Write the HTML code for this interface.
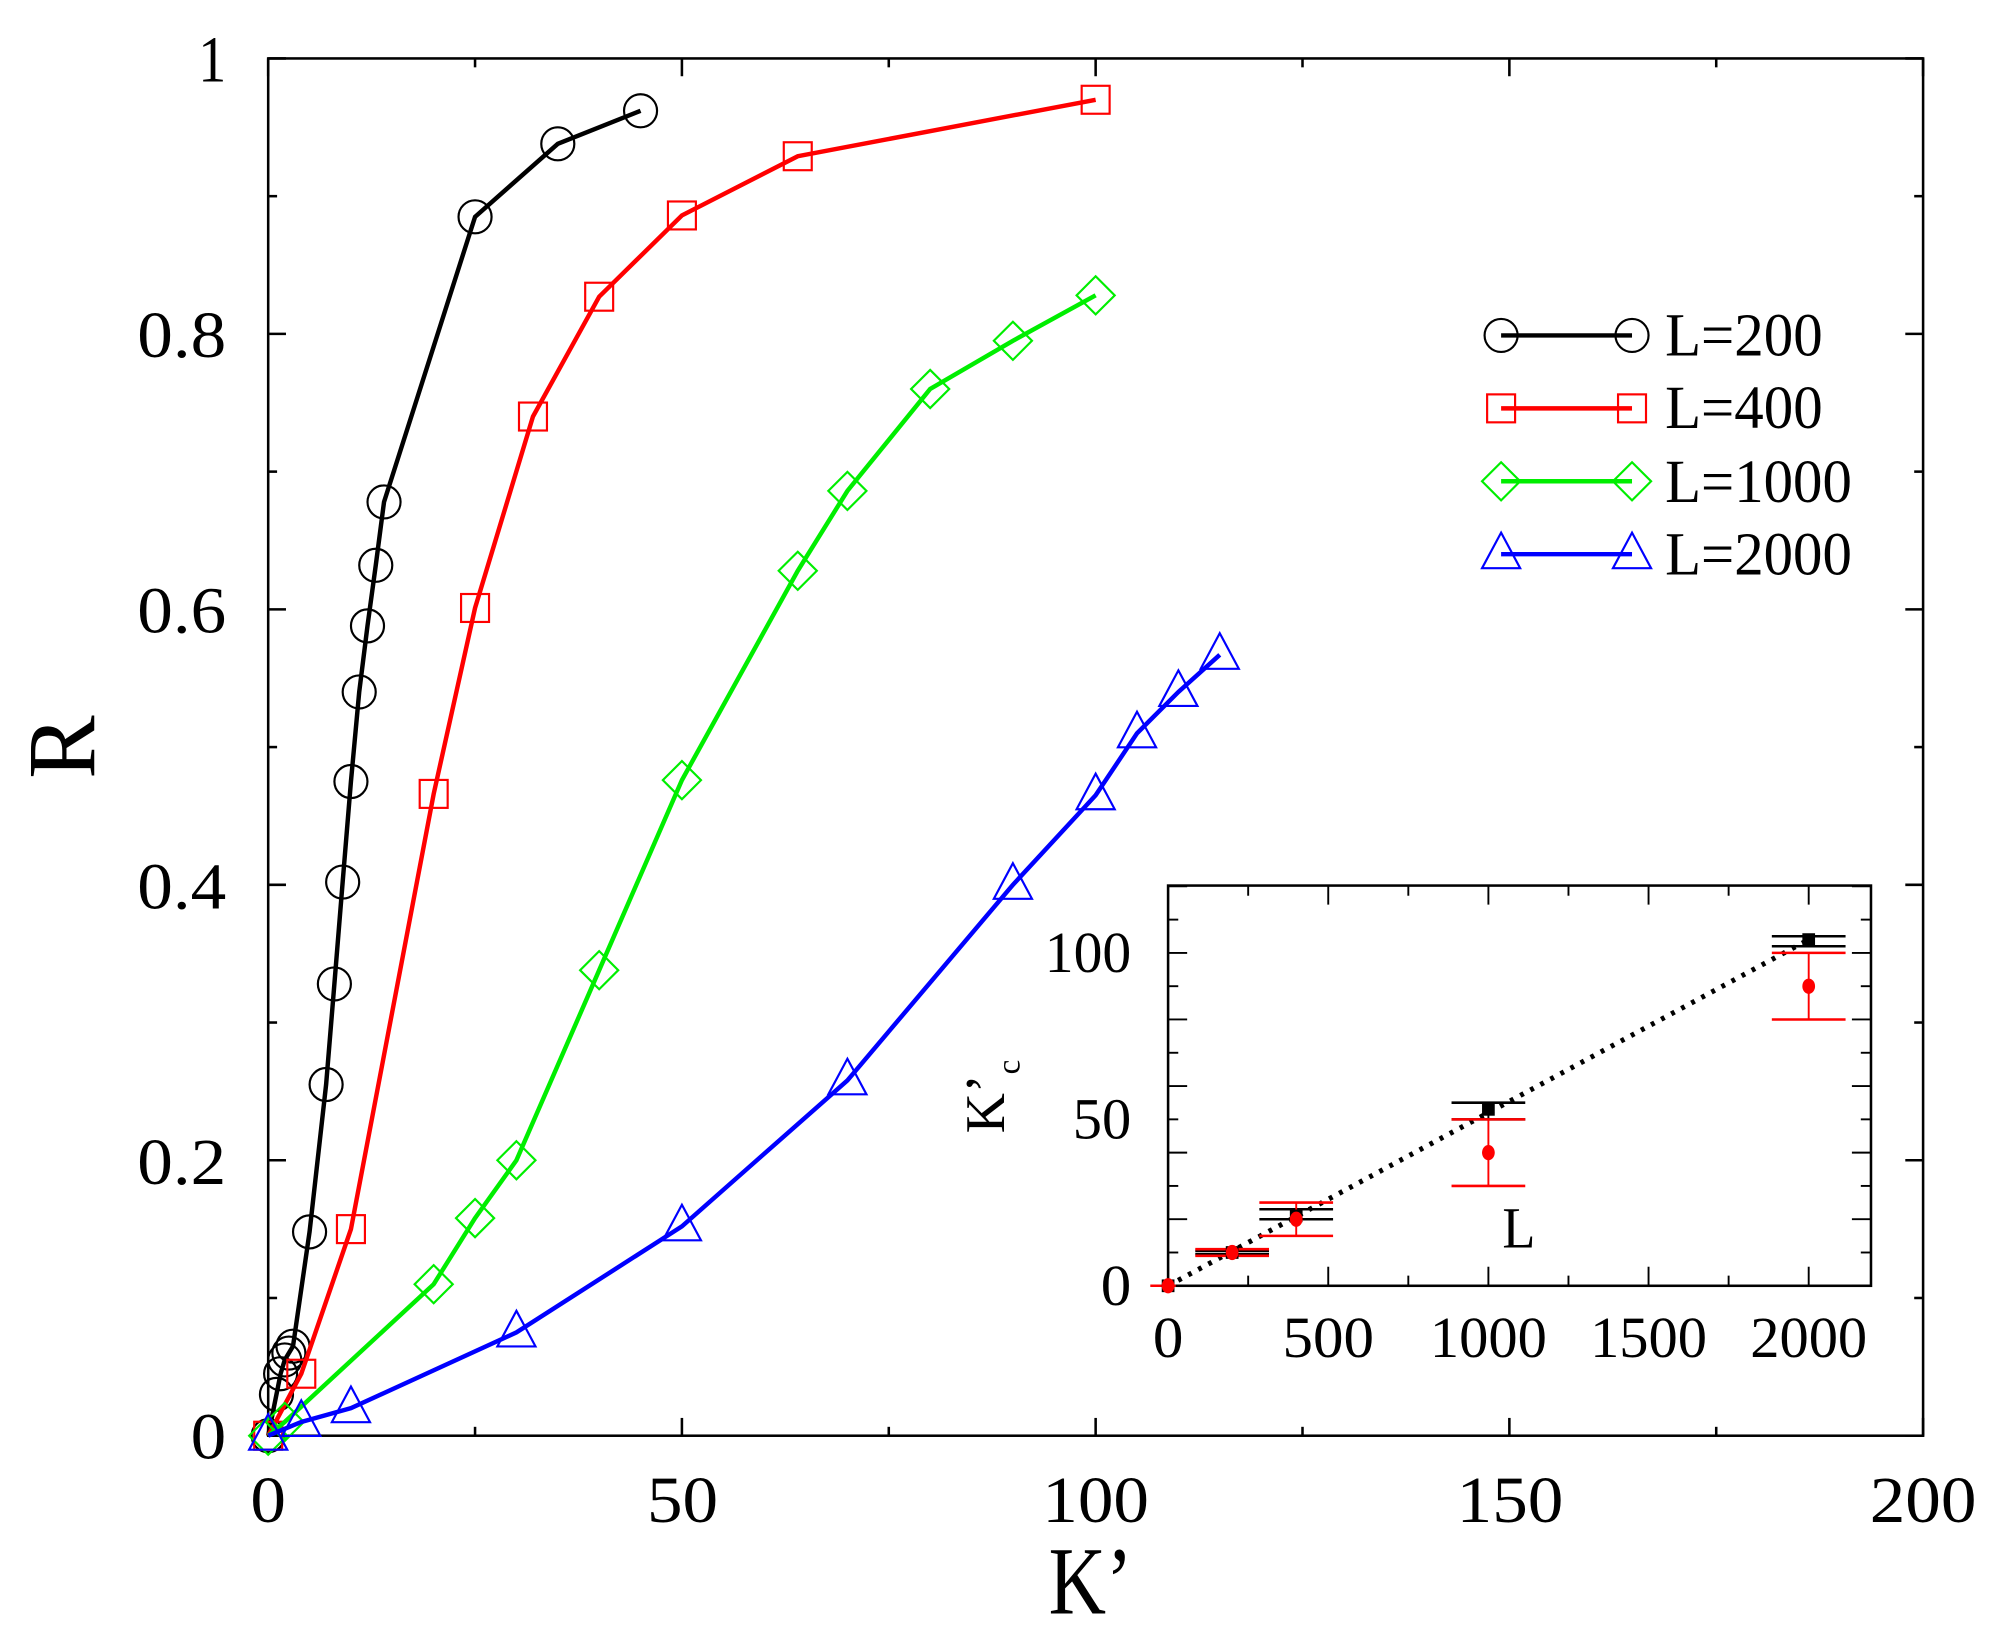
<!DOCTYPE html>
<html><head><meta charset="utf-8"><style>
html,body{margin:0;padding:0;background:#fff;}
svg{display:block;}
text{font-family:"Liberation Serif",serif;fill:#000;}
</style></head><body>
<svg id="s" width="1993" height="1639" viewBox="0 0 1568 1290" preserveAspectRatio="none" xmlns="http://www.w3.org/2000/svg">
<rect x="0" y="0" width="1568" height="1290" fill="#fff"/>
<g id="g"></g>
<g font-size="52" text-anchor="middle" lengthAdjust="spacingAndGlyphs">
<text x="211" y="1198" textLength="28" lengthAdjust="spacingAndGlyphs">0</text><text x="537" y="1198" textLength="56" lengthAdjust="spacingAndGlyphs">50</text><text x="862" y="1198" textLength="84" lengthAdjust="spacingAndGlyphs">100</text><text x="1188" y="1198" textLength="84" lengthAdjust="spacingAndGlyphs">150</text><text x="1513" y="1198" textLength="84" lengthAdjust="spacingAndGlyphs">200</text>
</g>
<g font-size="52" text-anchor="end">
<text x="178" y="1148" textLength="28" lengthAdjust="spacingAndGlyphs">0</text><text x="178" y="932" textLength="70" lengthAdjust="spacingAndGlyphs">0.2</text><text x="178" y="715" textLength="70" lengthAdjust="spacingAndGlyphs">0.4</text><text x="178" y="498" textLength="70" lengthAdjust="spacingAndGlyphs">0.6</text><text x="178" y="281" textLength="70" lengthAdjust="spacingAndGlyphs">0.8</text><text x="178" y="64" textLength="22" lengthAdjust="spacingAndGlyphs">1</text>
</g>
<text x="858" y="1270" font-size="76" text-anchor="middle" textLength="66" lengthAdjust="spacingAndGlyphs">K’</text>
<text transform="translate(74,588) rotate(-90)" font-size="76" text-anchor="middle" textLength="50" lengthAdjust="spacingAndGlyphs">R</text>
<g font-size="48">
<text x="1310" y="280" textLength="124" lengthAdjust="spacingAndGlyphs">L=200</text><text x="1310" y="337" textLength="124" lengthAdjust="spacingAndGlyphs">L=400</text><text x="1310" y="395" textLength="147" lengthAdjust="spacingAndGlyphs">L=1000</text><text x="1310" y="452" textLength="147" lengthAdjust="spacingAndGlyphs">L=2000</text>
</g>
<g font-size="46" text-anchor="middle">
<text x="919" y="1068" textLength="24" lengthAdjust="spacingAndGlyphs">0</text><text x="1045" y="1068" textLength="72" lengthAdjust="spacingAndGlyphs">500</text><text x="1171" y="1068" textLength="92" lengthAdjust="spacingAndGlyphs">1000</text><text x="1297" y="1068" textLength="92" lengthAdjust="spacingAndGlyphs">1500</text><text x="1423" y="1068" textLength="92" lengthAdjust="spacingAndGlyphs">2000</text>
</g>
<g font-size="46" text-anchor="end">
<text x="890" y="1027" textLength="24" lengthAdjust="spacingAndGlyphs">0</text><text x="890" y="896" textLength="46" lengthAdjust="spacingAndGlyphs">50</text><text x="890" y="765" textLength="68" lengthAdjust="spacingAndGlyphs">100</text>
</g>
<text x="1195" y="982" font-size="46" text-anchor="middle" textLength="26" lengthAdjust="spacingAndGlyphs">L</text>
<text transform="translate(790,892) rotate(-90)" font-size="44">K’<tspan font-size="26" dy="12">c</tspan></text>
</svg>
<script>
var NS="http://www.w3.org/2000/svg",G=document.getElementById('g');
function el(t,a){var e=document.createElementNS(NS,t);for(var k in a)e.setAttribute(k,a[k]);G.appendChild(e);return e;}
var X=function(v){return 211+v*6.51},Y=function(v){return 1130-v*1084};
for(var i=0;i<=8;i++){var x=211+i*162.75,l=i%2?7:14;el('line',{x1:x,y1:1130,x2:x,y2:1130-l,stroke:'#000','stroke-width':2});el('line',{x1:x,y1:46,x2:x,y2:46+l,stroke:'#000','stroke-width':2});}
for(var i=0;i<=10;i++){var y=1130-i*108.4,l=i%2?7:14;el('line',{x1:211,y1:y,x2:211+l,y2:y,stroke:'#000','stroke-width':2});el('line',{x1:1513,y1:y,x2:1513-l,y2:y,stroke:'#000','stroke-width':2});}
el('rect',{x:211,y:46,width:1302,height:1084,fill:'none',stroke:'#000','stroke-width':2});
function mark(type,x,y,c){
 if(type=='c')el('circle',{cx:x,cy:y,r:13,fill:'none',stroke:c,'stroke-width':1.7});
 else if(type=='s')el('rect',{x:x-11,y:y-11,width:22,height:22,fill:'none',stroke:c,'stroke-width':1.7});
 else if(type=='d')el('polygon',{points:[x,y-15,x+15,y,x,y+15,x-15,y].join(' '),fill:'none',stroke:c,'stroke-width':1.7});
 else el('polygon',{points:[x,y-17,x+15,y+11,x-15,y+11].join(' '),fill:'none',stroke:c,'stroke-width':1.7});
}
var S=[
['c','#000',[[0,0],[1,0.03],[1.5,0.045],[2,0.055],[2.5,0.06],[3,0.065],[5,0.148],[7,0.255],[8,0.328],[9,0.402],[10,0.475],[11,0.54],[12,0.588],[13,0.632],[14,0.678],[25,0.885],[35,0.938],[45,0.962]]],
['s','#f00',[[0,0],[4,0.045],[10,0.15],[20,0.466],[25,0.601],[32,0.74],[40,0.827],[50,0.886],[64,0.929],[100,0.97]]],
['d','#0e0',[[0,0],[2,0.01],[20,0.11],[25,0.158],[30,0.2],[40,0.338],[50,0.476],[64,0.628],[70,0.686],[80,0.76],[90,0.795],[100,0.828]]],
['t','#00f',[[0,0],[4,0.01],[10,0.02],[30,0.075],[50,0.152],[70,0.258],[90,0.4],[100,0.465],[105,0.51],[110,0.54],[115,0.567]]]];
S.forEach(function(s,k){
 el('polyline',{points:s[2].map(function(p){return X(p[0])+','+Y(p[1])}).join(' '),fill:'none',stroke:s[1],'stroke-width':3.5});
 s[2].forEach(function(p){mark(s[0],X(p[0]),Y(p[1]),s[1]);});
 var ly=264+k*57.4;el('line',{x1:1181,y1:ly,x2:1284,y2:ly,stroke:s[1],'stroke-width':3.5});mark(s[0],1181,ly,s[1]);mark(s[0],1284,ly,s[1]);
});
el('rect',{x:919,y:697,width:553,height:315,fill:'#fff',stroke:'#000','stroke-width':2});
var IX=function(v){return 919+v*0.252},IY=function(v){return 1012-v*2.62};
for(var i=0;i<=8;i++){var x=919+i*63,l=i%2?8:15;el('line',{x1:x,y1:1012,x2:x,y2:1012-l,stroke:'#000','stroke-width':1.5});el('line',{x1:x,y1:697,x2:x,y2:697+l,stroke:'#000','stroke-width':1.5});}
for(var i=0;i<=12;i++){var y=1012-i*26.2,l=i%2?8:15;el('line',{x1:919,y1:y,x2:919+l,y2:y,stroke:'#000','stroke-width':1.5});el('line',{x1:1472,y1:y,x2:1472-l,y2:y,stroke:'#000','stroke-width':1.5});}
el('line',{x1:IX(0),y1:IY(0),x2:IX(2000),y2:IY(104),stroke:'#000','stroke-width':4,'stroke-dasharray':'3,6'});
function eb(x,lo,hi,c){el('line',{x1:IX(x),y1:IY(lo),x2:IX(x),y2:IY(hi),stroke:c,'stroke-width':1.5});[lo,hi].forEach(function(v){el('line',{x1:IX(x)-29,y1:IY(v),x2:IX(x)+29,y2:IY(v),stroke:c,'stroke-width':2});});}
[[200,9.5,10.5],[400,20,23],[1000,50,55],[2000,102,105]].forEach(function(p){eb(p[0],p[1],p[2],'#000');});
[[200,9,11],[400,15,25],[1000,30,50],[2000,80,100]].forEach(function(p){eb(p[0],p[1],p[2],'#f00');});
el('line',{x1:905,y1:1012,x2:925,y2:1012,stroke:'#f00','stroke-width':2});
[[0,0],[200,10],[400,21],[1000,53],[2000,104]].forEach(function(p){el('rect',{x:IX(p[0])-5,y:IY(p[1])-5,width:10,height:10,fill:'#000'});});
[[0,0],[200,10],[400,20],[1000,40],[2000,90]].forEach(function(p){el('ellipse',{cx:IX(p[0]),cy:IY(p[1]),rx:5,ry:6,fill:'#f00'});});
</script>
</body></html>
